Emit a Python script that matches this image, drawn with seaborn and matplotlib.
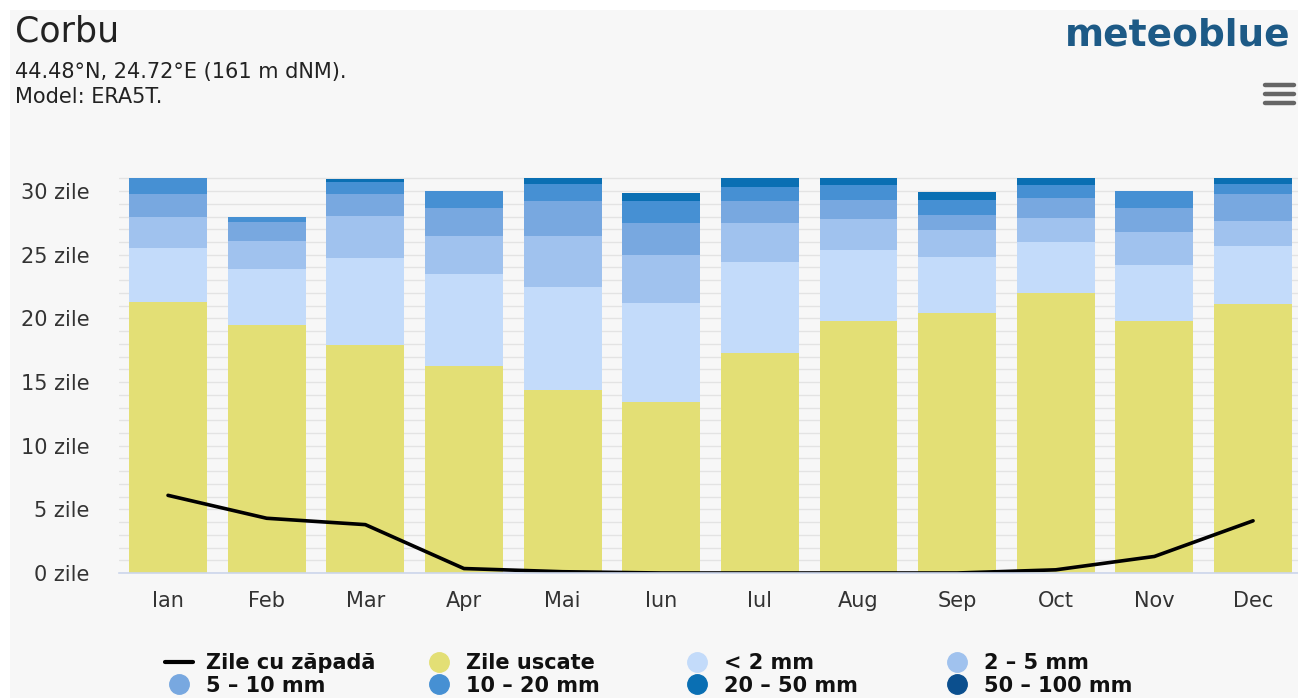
import numpy as np
import pandas as pd
import matplotlib
matplotlib.use("Agg")
import matplotlib.pyplot as plt
import seaborn as sns
from matplotlib.lines import Line2D
from matplotlib.patches import Rectangle
from matplotlib.ticker import MultipleLocator, FixedLocator

months = ["Ian", "Feb", "Mar", "Apr", "Mai", "Iun", "Iul", "Aug", "Sep", "Oct", "Nov", "Dec"]
dry = [21.3, 19.5, 17.9, 16.3, 14.4, 13.4, 17.3, 19.8, 20.4, 22.0, 19.8, 21.1]
lt2 = [4.25, 4.4, 6.85, 7.2, 8.05, 7.8, 7.1, 5.6, 4.4, 4.0, 4.4, 4.6]
r2_5 = [2.45, 2.15, 3.3, 3.0, 4.0, 3.8, 3.1, 2.4, 2.15, 1.85, 2.6, 1.95]
r5_10 = [1.75, 1.5, 1.75, 2.2, 2.8, 2.5, 1.75, 1.5, 1.15, 1.6, 1.85, 2.1]
r10_20 = [1.25, 0.45, 0.9, 1.3, 1.3, 1.75, 1.05, 1.2, 1.2, 1.05, 1.35, 0.8]
r20_50 = [0.0, 0.0, 0.25, 0.0, 0.45, 0.6, 0.7, 0.55, 0.6, 0.55, 0.0, 0.45]
r50_100 = [0.0] * 12
snow = [6.1, 4.3, 3.8, 0.35, 0.1, 0.0, 0.0, 0.0, 0.0, 0.25, 1.3, 4.1]

layer_names = ["Zile uscate", "< 2 mm", "2 – 5 mm", "5 – 10 mm", "10 – 20 mm", "20 – 50 mm", "50 – 100 mm"]
layer_colors = ["#e3df75", "#c3dbfa", "#a0c2ee", "#78a8e0", "#4690d3", "#0a6fb3", "#0b4f8e"]
layers = [dry, lt2, r2_5, r5_10, r10_20, r20_50, r50_100]

sns.set_theme(style="white")
plt.rcParams["font.family"] = ["DejaVu Sans"]

W, H = 1298, 698
fig = plt.figure(figsize=(W / 100, H / 100), dpi=100)
fig.patch.set_facecolor("white")
fig.add_artist(Rectangle((10 / W, 0), 1 - 10 / W, 1 - 10 / H, transform=fig.transFigure,
                         facecolor="#f7f7f7", edgecolor="none", zorder=-10))

# axes geometry (pixels)
x_left = 118.7
step = 98.64
y0 = 573.0
ppu = 12.73
ymax = 31.6
ax = fig.add_axes([x_left / W, (H - y0) / H, (W - x_left) / W, ymax * ppu / H])
ax.set_facecolor("none")

df = pd.DataFrame({"month": months})
cum = np.zeros(12)
cums = []
for vals in layers:
    cum = cum + np.array(vals)
    cums.append(cum.copy())
for i in range(len(layers) - 1, -1, -1):
    df["v"] = cums[i]
    sns.barplot(data=df, x="month", y="v", color=layer_colors[i], saturation=1,
                width=0.79, ax=ax, edgecolor="none", zorder=2)

sns.lineplot(x=np.arange(12), y=snow, color="black", linewidth=2.6, ax=ax, zorder=5)

ax.set_xlim(-0.5, -0.5 + (W - x_left) / step)
ax.set_ylim(0, ymax)
ax.yaxis.set_major_locator(FixedLocator([0, 5, 10, 15, 20, 25, 30]))
ax.yaxis.set_minor_locator(MultipleLocator(1))
ax.set_yticklabels([f"{v} zile" for v in [0, 5, 10, 15, 20, 25, 30]])
ax.set_xticks(range(12))
ax.set_xticklabels(months)
ax.set_xlabel("")
ax.set_ylabel("")
ax.grid(True, axis="y", which="both", color="#e3e3e3", linewidth=1)
ax.set_axisbelow(True)
for s in ["top", "right", "left"]:
    ax.spines[s].set_visible(False)
ax.spines["bottom"].set_color("#ccd6eb")
ax.spines["bottom"].set_linewidth(1.2)
ax.spines["bottom"].set_zorder(6)
ax.tick_params(axis="y", which="both", length=0, pad=21, labelsize=15, labelcolor="#333333")
ax.tick_params(axis="x", length=0, pad=13, labelsize=15, labelcolor="#333333")
for lab in ax.get_yticklabels():
    lab.set_horizontalalignment("right")

# titles
fig.text(15 / W, 1 - 31 / H, "Corbu", fontsize=25, color="#222222", va="center", ha="left")
fig.text(15 / W, 1 - 72 / H, "44.48°N, 24.72°E (161 m dNM).", fontsize=15, color="#222222", va="center", ha="left")
fig.text(15 / W, 1 - 97 / H, "Model: ERA5T.", fontsize=15, color="#222222", va="center", ha="left")
fig.text(1290 / W, 1 - 35 / H, "meteoblue", fontsize=27, fontweight="bold", color="#1d5a86",
         va="center", ha="right")
for yy in [85, 94, 103]:
    fig.add_artist(Line2D([1265 / W, 1294 / W], [1 - yy / H, 1 - yy / H], color="#666666",
                          linewidth=3.2, solid_capstyle="round", transform=fig.transFigure))

# legend: 4 columns, 2 rows
def circ(c):
    return Line2D([], [], marker="o", linestyle="", markersize=14, markerfacecolor=c, markeredgecolor=c)

entries = [(Line2D([], [], color="black", linewidth=3), "Zile cu zăpadă")]
for n, c in zip(layer_names, layer_colors):
    entries.append((circ(c), n))
col_x = [165, 425, 683, 943]
for ci in range(4):
    pair = [entries[ci], entries[ci + 4]]
    leg = fig.legend([p[0] for p in pair], [p[1] for p in pair], loc="center left",
                     bbox_to_anchor=(col_x[ci] / W, 1 - 674.5 / H), frameon=False,
                     prop={"size": 15, "weight": "bold"},
                     handlelength=1.35, handletextpad=0.6, labelspacing=0.1, borderpad=0,
                     borderaxespad=0, labelcolor="#111111")

fig.savefig("out.png", dpi=100, facecolor=fig.get_facecolor())
